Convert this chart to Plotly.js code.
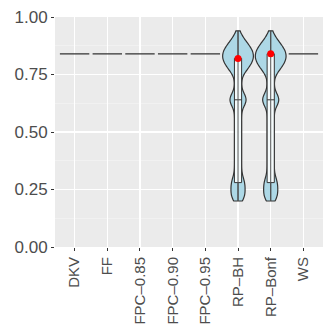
<!DOCTYPE html>
<html><head><meta charset="utf-8">
<script src="https://cdn.plot.ly/plotly-3.0.1.min.js"></script>
<style>html,body{margin:0;padding:0;background:#fff}#c{width:327px;height:327px}</style>
</head><body><div id="c"></div>
<script>
const categories = ["DKV","FF","FPC\u20130.85","FPC\u20130.90","FPC\u20130.95","RP\u2013BH","RP\u2013Bonf","WS"];
const yTickVals = [0, 0.25, 0.5, 0.75, 1];
const yTickText = ["0.00","0.25","0.50","0.75","1.00"];

// constant-valued methods
const flatValue = [0.84, 0.84, 0.84, 0.84, 0.84, null, null, 0.84];

const rpBH = [
 0.20,0.20,0.20, 0.22,0.22,0.22,0.22, 0.24,0.24,0.24,0.24, 0.26,0.26,0.26,0.26,
 0.28,0.28,0.28,0.28, 0.30,0.30,0.30, 0.32,0.32, 0.34,0.34,
 0.36,0.36, 0.38,0.38, 0.40,0.40, 0.42,0.42, 0.44,0.44, 0.46,0.46, 0.48,0.48, 0.50,0.50,
 0.52,0.52, 0.54,0.54, 0.56,0.56, 0.58,0.58, 0.60,0.60, 0.62,0.62,0.62,0.62,
 0.64,0.64,0.64,0.64,0.64,0.64, 0.66,0.66,0.66,0.66, 0.68,0.68, 0.70,0.70, 0.72,0.72, 0.74,0.74,
 0.76,0.76,0.76,0.76, 0.78,0.78,0.78,0.78,0.78,0.78, 0.80,0.80,0.80,0.80,0.80,0.80,0.80,0.80,
 0.82,0.82,0.82,0.82,0.82,0.82,0.82,0.82,0.82, 0.84,0.84,0.84,0.84,0.84,0.84,0.84,0.84,0.84,
 0.86,0.86,0.86,0.86,0.86,0.86,0.86,0.86, 0.88,0.88,0.88,0.88,0.88,0.88, 0.90,0.90,0.90,0.90,
 0.92,0.92, 0.94];
const rpBonf = rpBH.slice();

// box summaries
const boxCats = ["RP\u2013BH","RP\u2013Bonf"];
const boxQ1 = [0.28, 0.28];
const boxMed = [0.64, 0.64];
const boxQ3 = [0.82, 0.84];
const boxLo = [0.20, 0.20];
const boxHi = [0.94, 0.94];
const meanVals = [0.82, 0.84];

const traces = [];
categories.forEach((c,i)=>{
  if(flatValue[i]!==null){
    traces.push({type:'violin', x:[c,c,c,c], y:[flatValue[i],flatValue[i],flatValue[i],flatValue[i]],
      fillcolor:'#ADD8E6', line:{color:'#333333', width:1.2}, points:false, box:{visible:false},
      meanline:{visible:false}, spanmode:'hard', scalemode:'width', width:0.9, hoverinfo:'skip', showlegend:false});
  }
});
[[boxCats[0], rpBH],[boxCats[1], rpBonf]].forEach(([c,vals])=>{
  traces.push({type:'violin', x:vals.map(()=>c), y:vals, bandwidth:0.021,
    fillcolor:'#ADD8E6', line:{color:'#333333', width:1.2}, points:false, box:{visible:false},
    meanline:{visible:false}, spanmode:'hard', scalemode:'width', width:0.94, hoverinfo:'skip', showlegend:false});
});
boxCats.forEach((c,i)=>{
  traces.push({type:'scatter', mode:'lines', x:[c,c], y:[boxLo[i], boxHi[i]],
    line:{color:'#555555', width:1}, hoverinfo:'skip', showlegend:false});
  traces.push({type:'box', x:[c], q1:[boxQ1[i]], median:[boxMed[i]], q3:[boxQ3[i]],
    lowerfence:[boxLo[i]], upperfence:[boxHi[i]], width:0.22,
    fillcolor:'rgba(255,255,255,0.88)', line:{color:'#333333', width:1}, whiskerwidth:0,
    boxpoints:false, hoverinfo:'skip', showlegend:false});
});
traces.push({type:'scatter', mode:'markers', x:boxCats, y:meanVals,
  marker:{color:'#FF0000', size:7}, hoverinfo:'skip', showlegend:false});

const layout = {
  width:327, height:327, margin:{l:55, r:4, t:17, b:80},
  paper_bgcolor:'#FFFFFF', plot_bgcolor:'#EBEBEB',
  showlegend:false, violinmode:'overlay', boxmode:'overlay',
  xaxis:{type:'category', categoryorder:'array', categoryarray:categories, range:[-0.6, 7.6],
    showgrid:true, gridcolor:'#FFFFFF', gridwidth:1.1, zeroline:false, showline:false,
    ticks:'outside', ticklen:3, tickwidth:1, tickcolor:'#333333', tickangle:-90,
    tickfont:{family:'Liberation Sans, Arial, sans-serif', size:15, color:'#4D4D4D'}},
  yaxis:{range:[0,1], tickvals:yTickVals, ticktext:yTickText,
    showgrid:true, gridcolor:'#FFFFFF', gridwidth:1.1, zeroline:false, showline:false,
    minor:{dtick:0.125, showgrid:true, gridcolor:'#F5F5F5', gridwidth:0.6},
    ticks:'outside', ticklen:3, tickwidth:1, tickcolor:'#333333',
    tickfont:{family:'Liberation Sans, Arial, sans-serif', size:17, color:'#4D4D4D'}}
};
Plotly.newPlot('c', traces, layout, {displayModeBar:false, staticPlot:true});
</script></body></html>
